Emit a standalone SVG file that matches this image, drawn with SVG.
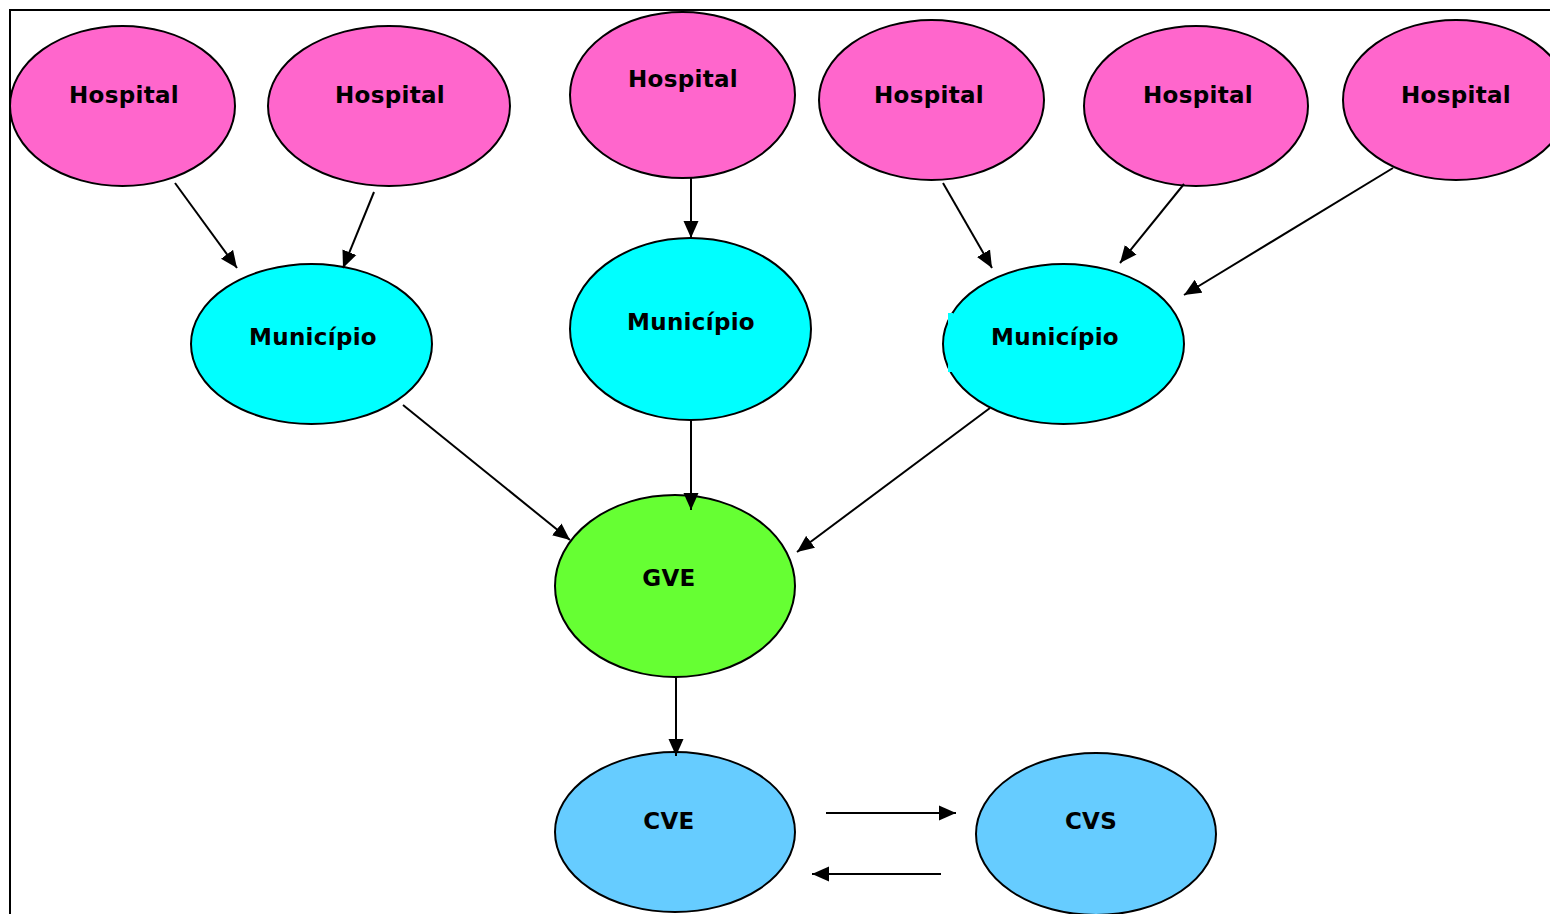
<svg xmlns="http://www.w3.org/2000/svg" width="1550" height="914" viewBox="0 0 1550 914">
<defs>
<style>
.n{stroke:#000;stroke-width:2}
.h{fill:#FF66CC}
.m{fill:#00FFFF}
.g{fill:#66FF33}
.c{fill:#66CCFF}
text{font-family:"DejaVu Sans",Verdana,sans-serif;font-weight:bold;font-size:23px;text-anchor:middle;fill:#000;letter-spacing:0.3px}
.e line{stroke:#000;stroke-width:2;marker-end:url(#a)}
</style>
<marker id="a" markerUnits="userSpaceOnUse" markerWidth="18" markerHeight="16" refX="17" refY="8" orient="auto">
<path d="M0,0.5 L17,8 L0,15.5 z" fill="#000"/>
</marker>
</defs>
<rect width="1550" height="914" fill="#fff"/>
<rect x="10" y="10" width="1600" height="960" fill="none" stroke="#000" stroke-width="2"/>
<g id="h1"><ellipse class="n h" cx="122.5" cy="106" rx="112.5" ry="80"/><text x="124" y="103">Hospital</text></g>
<g id="h2"><ellipse class="n h" cx="389" cy="106" rx="121" ry="80"/><text x="390" y="103">Hospital</text></g>
<g id="h3"><ellipse class="n h" cx="682.5" cy="95" rx="112.5" ry="83"/><text x="683" y="87">Hospital</text></g>
<g id="h4"><ellipse class="n h" cx="931.5" cy="100" rx="112.5" ry="80"/><text x="929" y="103">Hospital</text></g>
<g id="h5"><ellipse class="n h" cx="1196" cy="106" rx="112" ry="80"/><text x="1198" y="103">Hospital</text></g>
<g id="h6"><ellipse class="n h" cx="1456" cy="100" rx="113" ry="80"/><text x="1456" y="103">Hospital</text></g>
<g id="m1"><ellipse class="n m" cx="311.5" cy="344" rx="120.5" ry="80"/><text x="313" y="345">Município</text></g>
<g id="m2"><ellipse class="n m" cx="690.5" cy="329" rx="120.5" ry="91"/><text x="691" y="330">Município</text></g>
<g id="m3"><ellipse class="n m" cx="1063.5" cy="344" rx="120.5" ry="80"/><rect x="948" y="313" width="5" height="59" fill="#00FFFF"/><text x="1055" y="345">Município</text></g>
<g id="gve"><ellipse class="n g" cx="675" cy="586" rx="120" ry="91"/><text x="669" y="586">GVE</text></g>
<g id="cve"><ellipse class="n c" cx="675" cy="832" rx="120" ry="80"/><text x="669" y="829">CVE</text></g>
<g id="cvs"><ellipse class="n c" cx="1096" cy="834" rx="120" ry="81"/><text x="1091" y="829">CVS</text></g>
<g id="connectors" class="e">
<line x1="175" y1="183" x2="237" y2="268"/>
<line x1="374" y1="192" x2="343" y2="268"/>
<line x1="691" y1="178" x2="691" y2="238"/>
<line x1="943" y1="183" x2="992" y2="268"/>
<line x1="1184" y1="184" x2="1120" y2="263"/>
<line x1="1393" y1="168" x2="1184" y2="295"/>
<line x1="403" y1="405" x2="570" y2="540"/>
<line x1="691" y1="420" x2="691" y2="510"/>
<line x1="990" y1="408" x2="797" y2="552"/>
<line x1="676" y1="677" x2="676" y2="756"/>
<line x1="826" y1="813" x2="956" y2="813"/>
<line x1="941" y1="874" x2="812" y2="874"/>
</g>
</svg>
